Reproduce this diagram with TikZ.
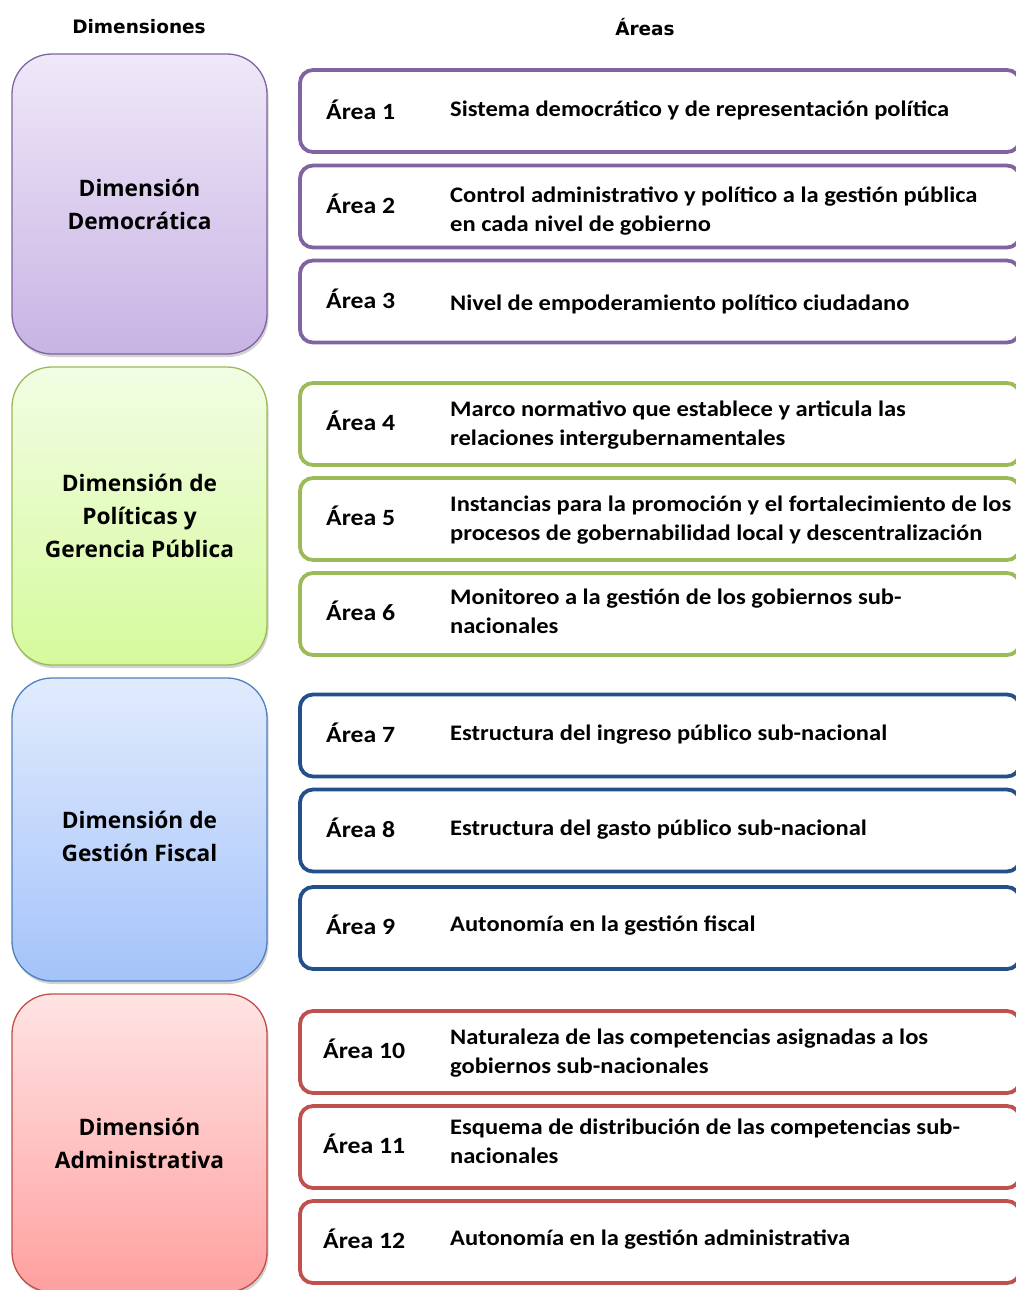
\documentclass[tikz,border=0pt]{standalone}
\usepackage{fontspec}
\setmainfont{Carlito}
\newfontfamily\areafont{Carlito}[FakeStretch=1.105]
\newfontfamily\dimfont{Open Sans}
\newfontfamily\headfont{DejaVu Sans}
\usetikzlibrary{shadows}
\definecolor{pline}{HTML}{8064A2}
\definecolor{ptop}{HTML}{EFE8F8}
\definecolor{pbot}{HTML}{C8B3E4}
\definecolor{gline}{HTML}{9BBB59}
\definecolor{gtop}{HTML}{F2FDE4}
\definecolor{gbot}{HTML}{D5FA9C}
\definecolor{bline}{HTML}{24508A}
\definecolor{bdline}{HTML}{4F81BD}
\definecolor{btop}{HTML}{E1EBFD}
\definecolor{bbot}{HTML}{A4C3FA}
\definecolor{rline}{HTML}{C0504D}
\definecolor{rtop}{HTML}{FFE4E4}
\definecolor{rbot}{HTML}{FFA09F}
\tikzset{
  dimbox/.style={rectangle, rounded corners=40pt, minimum width=255pt, line width=1.3pt,
    drop shadow={shadow xshift=1.5pt, shadow yshift=-3pt, opacity=0.35},
    align=center, font=\dimfont\bfseries\fontsize{22.7}{33}\selectfont, inner sep=0pt},
  areabox/.style={rectangle, rounded corners=13pt, minimum width=720pt, minimum height=82pt,
    line width=3.8pt, fill=white},
  alabel/.style={anchor=base west, font=\areafont\bfseries\fontsize{23.3}{29}\selectfont, inner sep=0pt},
  adesc/.style={anchor=base west, font=\areafont\bfseries\fontsize{22.2}{29}\selectfont, inner sep=0pt},
  heading/.style={font=\headfont\bfseries\fontsize{18.5}{22}\selectfont, inner sep=0pt}
}
\begin{document}
\begin{tikzpicture}[x=1pt,y=-1pt]
\useasboundingbox (0,0) rectangle (1016,1290);
\clip (0,0) rectangle (1016,1290);
\fill[white] (0,0) rectangle (1016,1290);

\node[heading] (hdim) at (139,27) {Dimensiones};
\node[heading] (harea) at (645,27) {Áreas};

% dimension boxes
\node[dimbox, minimum height=300pt, draw=pline, top color=ptop, bottom color=pbot] (d1) at (139.5,204) {Dimensión\\Democrática};
\node[dimbox, minimum height=298pt, draw=gline, top color=gtop, bottom color=gbot] (d2) at (139.5,516) {Dimensión de\\Políticas y\\Gerencia Pública};
\node[dimbox, minimum height=303pt, draw=bdline, top color=btop, bottom color=bbot] (d3) at (139.5,829.5) {};
\node[dimbox, minimum height=298pt, draw=rline, top color=rtop, bottom color=rbot] (d4) at (139.5,1143) {Dimensión\\Administrativa};
\node[align=center, font=\dimfont\bfseries\fontsize{22.7}{33}\selectfont, inner sep=0pt] (d3t) at (139.5,836) {Dimensión de\\Gestión Fiscal};

% area boxes
\node[areabox, draw=pline] (a1) at (660,111) {};
\node[areabox, draw=pline] (a2) at (660,206.5) {};
\node[areabox, draw=pline] (a3) at (660,301.5) {};
\node[areabox, draw=gline] (a4) at (660,424) {};
\node[areabox, draw=gline] (a5) at (660,519) {};
\node[areabox, draw=gline] (a6) at (660,614) {};
\node[areabox, draw=bline] (a7) at (660,735.5) {};
\node[areabox, draw=bline] (a8) at (660,830.5) {};
\node[areabox, draw=bline] (a9) at (660,928) {};
\node[areabox, draw=rline] (a10) at (660,1052) {};
\node[areabox, draw=rline] (a11) at (660,1147) {};
\node[areabox, draw=rline] (a12) at (660,1242) {};

% area labels
\node[alabel] (l1) at (326,119) {Área 1};
\node[alabel] (l2) at (326,213) {Área 2};
\node[alabel] (l3) at (326,308) {Área 3};
\node[alabel] (l4) at (326,430) {Área 4};
\node[alabel] (l5) at (326,525) {Área 5};
\node[alabel] (l6) at (326,620) {Área 6};
\node[alabel] (l7) at (326,742) {Área 7};
\node[alabel] (l8) at (326,837) {Área 8};
\node[alabel] (l9) at (326,934) {Área 9};
\node[alabel] (l10) at (323,1058) {Área 10};
\node[alabel] (l11) at (323,1153) {Área 11};
\node[alabel] (l12) at (323,1248) {Área 12};

% descriptions
\node[adesc] (t1) at (450,116) {Sistema democrático y de representación política};
\node[adesc] (t2a) at (450,202) {Control administrativo y político a la gestión pública};
\node[adesc] (t2b) at (450,231) {en cada nivel de gobierno};
\node[adesc] (t3) at (450,310) {Nivel de empoderamiento político ciudadano};
\node[adesc] (t4a) at (450,416) {Marco normativo que establece y articula las};
\node[adesc] (t4b) at (450,445) {relaciones intergubernamentales};
\node[adesc] (t5a) at (450,511) {Instancias para la promoción y el fortalecimiento de los};
\node[adesc] (t5b) at (450,540) {procesos de gobernabilidad local y descentralización};
\node[adesc] (t6a) at (450,604) {Monitoreo a la gestión de los gobiernos sub-};
\node[adesc] (t6b) at (450,633) {nacionales};
\node[adesc] (t7) at (450,740) {Estructura del ingreso público sub-nacional};
\node[adesc] (t8) at (450,835) {Estructura del gasto público sub-nacional};
\node[adesc] (t9) at (450,931) {Autonomía en la gestión fiscal};
\node[adesc] (t10a) at (450,1044) {Naturaleza de las competencias asignadas a los};
\node[adesc] (t10b) at (450,1073) {gobiernos sub-nacionales};
\node[adesc] (t11a) at (450,1134) {Esquema de distribución de las competencias sub-};
\node[adesc] (t11b) at (450,1163) {nacionales};
\node[adesc] (t12) at (450,1245) {Autonomía en la gestión administrativa};
\end{tikzpicture}
\end{document}
